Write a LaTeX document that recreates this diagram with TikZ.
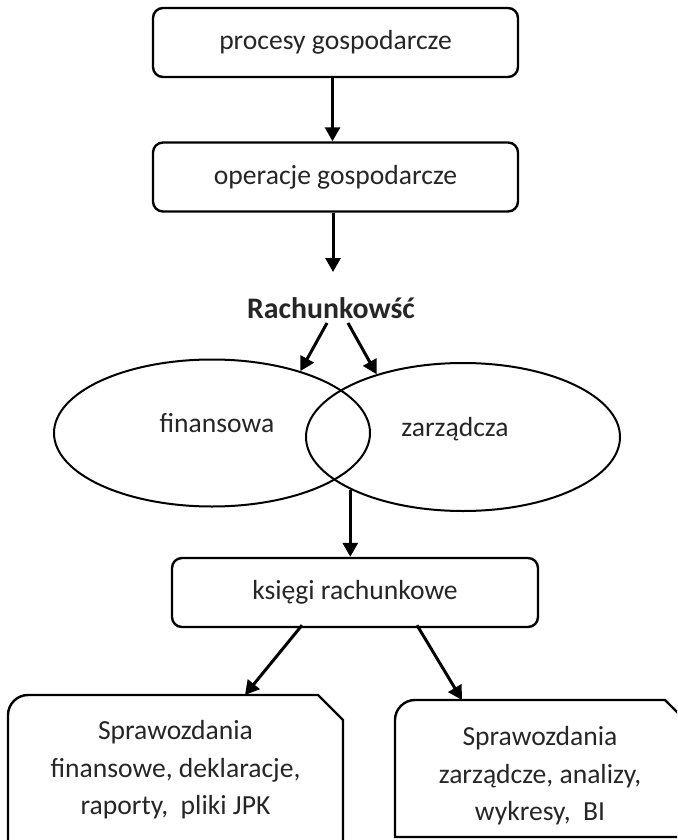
\documentclass[tikz,border=0pt]{standalone}
\usepackage{fontspec}
\setmainfont{Carlito}
\usetikzlibrary{shapes.geometric,arrows.meta,calc}
\begin{document}
\begin{tikzpicture}[x=0.5pt,y=-0.5pt,
  box/.style={draw, line width=1.2pt, rounded corners=5pt, minimum width=182.5pt, minimum height=34.5pt, inner sep=0pt, text=black!85, font=\fontsize{13.8pt}{16pt}\selectfont},
  oval/.style={draw, ellipse, line width=1pt, inner sep=0pt},
  lbl/.style={font=\fontsize{13.8pt}{16pt}\selectfont, text=black!85, inner sep=0pt, anchor=base},
  multi/.style={font=\fontsize{13.8pt}{18.75pt}\selectfont, text=black!85, align=center, inner sep=0pt},
  arr/.style={line width=1.5pt, -{Triangle[length=7pt,width=7.5pt]}},
  outline/.style={line width=1.2pt, line join=miter},
  hidden/.style={draw=none, inner sep=0pt, outer sep=0pt, anchor=north west}
]
\fill[white] (0,0) rectangle (677,840);
\useasboundingbox (0,0) rectangle (677,840);
\clip (0,0) rectangle (677,840);

% boxes
\node[box] (n1) at (335.5,42.5) {procesy gospodarcze};
\node[box] (n2) at (335.5,177) {operacje gospodarcze};
\node[lbl, font=\bfseries\fontsize{14.9pt}{17pt}\selectfont] (rach) at (331,318) {Rachunkowść};
\coordinate (a2end) at (333,272);

% ellipses
\node[oval, minimum width=158pt, minimum height=73.5pt] (fin) at (212,433) {};
\node[oval, minimum width=157pt, minimum height=74pt] (zar) at (463,437) {};
\node[lbl] (fint) at (217,432) {finansowa};
\node[lbl] (zart) at (455,436) {zarządcza};

\node[box, minimum width=183pt] (kr) at (355,592.5) {księgi rachunkowe};

% bottom boxes
\node[hidden, minimum width=167.5pt, minimum height=92.5pt] (lbox) at (8,695) {};
\node[hidden, minimum width=146.5pt, minimum height=68.5pt] (rbox) at (395,700) {};
\node[multi] (ltext) at (175.5,770) {Sprawozdania\\finansowe, deklaracje,\\raporty,\ \ pliki JPK};
\node[multi] (rtext) at (540,776) {Sprawozdania\\zarządcze, analizy,\\wykresy,\ \ BI};

\draw[outline] (lbox.south west) -- ($(lbox.north west)+(0,20)$)
  .. controls ($(lbox.north west)+(0,9)$) and ($(lbox.north west)+(9,0)$) .. ($(lbox.north west)+(20,0)$)
  -- ($(lbox.north east)+(-25,0)$) -- ($(lbox.north east)+(0,25)$) -- (lbox.south east);
\draw[outline] ($(rbox.north east)+(0,23)$) -- (rbox.south east) -- (rbox.south west) -- ($(rbox.north west)+(0,20)$)
  .. controls ($(rbox.north west)+(0,9)$) and ($(rbox.north west)+(9,0)$) .. ($(rbox.north west)+(20,0)$)
  -- ($(rbox.north east)+(-23,0)$) -- ($(rbox.north east)+(0,23)$);

% arrows
\draw[arr] ($(n1.south)+(-3,0)$) -- ($(n2.north)+(-3,0)$);
\draw[arr] ($(n2.south)+(-2.5,0)$) -- (a2end);
\draw[arr] ($(rach.base)+(-4,5)$) -- (fin.35.6);
\draw[arr] ($(rach.base)+(17,5)$) -- (zar.144.5);
\draw[arr] (zar.205) -- (zar.205 |- kr.north);
\draw[arr] ($(kr.south)+(-53,-3)$) -- ($(lbox.north)+(69.5,0)$);
\draw[arr] ($(kr.south)+(62,-3)$) -- ($(rbox.north)+(-79.5,0)$);
\end{tikzpicture}
\end{document}
